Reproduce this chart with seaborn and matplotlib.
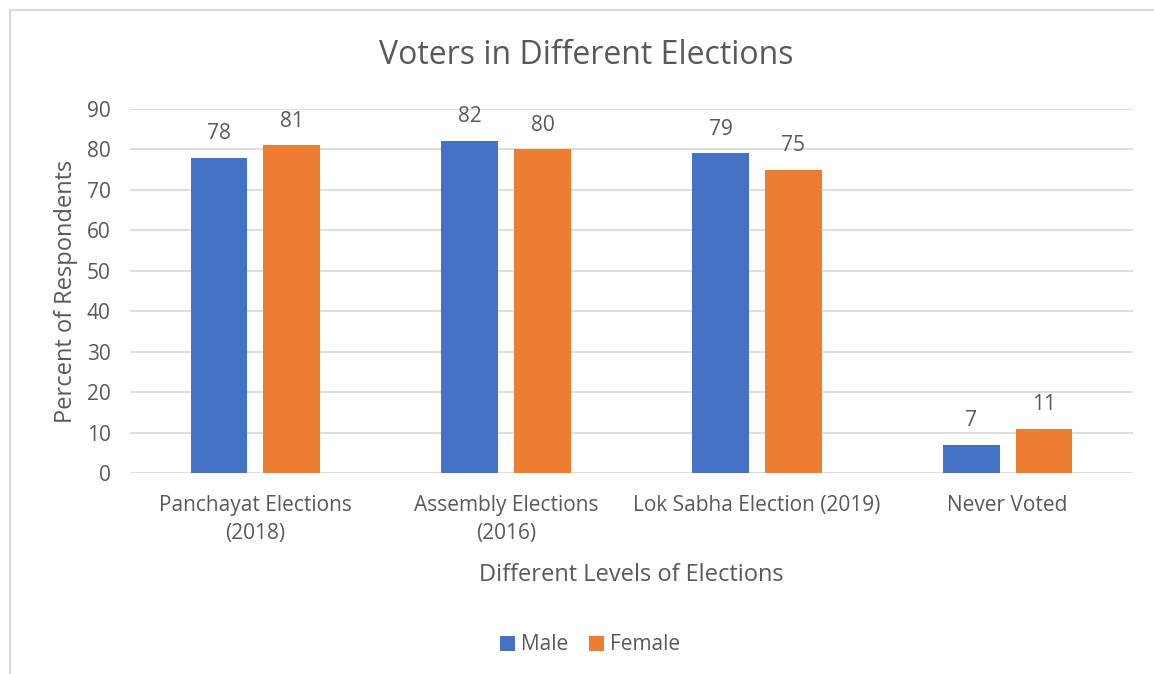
import matplotlib
matplotlib.use("Agg")
import matplotlib.pyplot as plt
import seaborn as sns
import pandas as pd
from matplotlib.lines import Line2D
from matplotlib.patches import Patch

categories = ["Panchayat Elections\n(2018)", "Assembly Elections\n(2016)",
              "Lok Sabha Election (2019)", "Never Voted"]
male = [78, 82, 79, 7]
female = [81, 80, 75, 11]
series = ["Male", "Female"]
colors = ["#4472C4", "#ED7D31"]
yticks = [0, 10, 20, 30, 40, 50, 60, 70, 80, 90]

df = pd.DataFrame({
    "Category": categories * 2,
    "Gender": [series[0]] * len(categories) + [series[1]] * len(categories),
    "Value": male + female,
})

sns.set_theme(style="white")
plt.rcParams["font.family"] = ["Open Sans", "DejaVu Sans"]
text_color = "#595959"

fig = plt.figure(figsize=(11.54, 6.74), dpi=100)
ax = fig.add_axes([130 / 1154, 1 - 473 / 674, 1003 / 1154, 364 / 674])

sns.barplot(data=df, x="Category", y="Value", hue="Gender", order=categories,
            hue_order=series, palette=colors, width=0.58, gap=0.22,
            saturation=1, ax=ax, legend=False, linewidth=0)

for cont in ax.containers:
    ax.bar_label(cont, padding=10, fontsize=15, color=text_color)

ax.set_xlim(-0.5, 3.5)
ax.set_ylim(0, 90)
ax.set_yticks(yticks)
ax.yaxis.grid(True, color="#D9D9D9", linewidth=1.2)
ax.set_axisbelow(True)
for s in ax.spines.values():
    s.set_visible(False)
ax.tick_params(axis="both", length=0, labelsize=15, colors=text_color)
ax.tick_params(axis="y", pad=14)
ax.tick_params(axis="x", pad=16)
for lbl in ax.get_xticklabels():
    lbl.set_linespacing(1.4)
ax.set_xlabel("Different Levels of Elections", fontsize=17, color=text_color, labelpad=14)
ax.set_ylabel("Percent of Respondents", fontsize=17, color=text_color, labelpad=6)

fig.text(586 / 1154, 1 - 56 / 674, "Voters in Different Elections", ha="center",
         va="center", fontsize=23, color=text_color)

handles = [Patch(facecolor=c, edgecolor="none") for c in colors]
fig.legend(handles, series, loc="center", bbox_to_anchor=(590 / 1154, 1 - 645 / 674),
           ncol=2, frameon=False, fontsize=15, handlelength=0.7, handleheight=0.7,
           handletextpad=0.3, columnspacing=1.0, labelcolor=text_color)

# chart border
fig.add_artist(Line2D([10 / 1154, 10 / 1154], [0, 1 - 10 / 674], color="#D9D9D9",
                      linewidth=1.5, transform=fig.transFigure))
fig.add_artist(Line2D([10 / 1154, 1], [1 - 10 / 674, 1 - 10 / 674], color="#D9D9D9",
                      linewidth=1.5, transform=fig.transFigure))

fig.savefig("out.png", dpi=100, facecolor="white")
